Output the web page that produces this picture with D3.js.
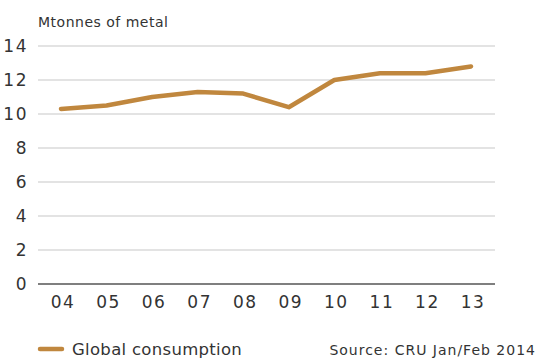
<!DOCTYPE html>
<html>
<head>
<meta charset="utf-8">
<script src="https://cdn.jsdelivr.net/npm/d3@7"></script>
<style>
  body { margin: 0; background: #fff; }
  text { font-family: "DejaVu Sans", sans-serif; fill: #333; }
</style>
</head>
<body>
<div id="chart"></div>
<script>
var years = ["04", "05", "06", "07", "08", "09", "10", "11", "12", "13"];
var consumption = [10.3, 10.5, 11.0, 11.3, 11.2, 10.4, 12.0, 12.4, 12.4, 12.8];
var yTicks = [0, 2, 4, 6, 8, 10, 12, 14];

var width = 538, height = 358;
var margin = { top: 46, right: 43, bottom: 74, left: 38 };

var svg = d3.select("#chart").append("svg")
    .attr("width", width)
    .attr("height", height);

var x = d3.scalePoint()
    .domain(years)
    .range([margin.left + 23, width - margin.right - 24]);

var y = d3.scaleLinear()
    .domain([0, 14])
    .range([height - margin.bottom, margin.top]);

// grid lines
svg.selectAll("line.grid")
    .data(yTicks)
    .enter()
    .append("line")
    .attr("class", "grid")
    .attr("x1", margin.left)
    .attr("x2", width - margin.right)
    .attr("y1", function(d) { return y(d); })
    .attr("y2", function(d) { return y(d); })
    .attr("stroke", function(d) { return d == 0 ? "#555" : "#c8c8c8"; })
    .attr("stroke-width", function(d) { return d == 0 ? 1.5 : 1.2; });

// y labels
svg.selectAll("text.ylab")
    .data(yTicks)
    .enter()
    .append("text")
    .attr("class", "ylab")
    .attr("x", 28)
    .attr("y", function(d) { return y(d) + 6; })
    .attr("text-anchor", "end")
    .attr("font-size", 17)
    .attr("letter-spacing", 1.5)
    .text(function(d) { return d; });

// x labels
svg.selectAll("text.xlab")
    .data(years)
    .enter()
    .append("text")
    .attr("class", "xlab")
    .attr("x", function(d) { return x(d) + 2; })
    .attr("y", y(0) + 24)
    .attr("text-anchor", "middle")
    .attr("font-size", 17)
    .attr("letter-spacing", 1.5)
    .text(function(d) { return d; });

// unit title
svg.append("text")
    .attr("x", margin.left)
    .attr("y", 27)
    .attr("font-size", 14)
    .attr("letter-spacing", 0.5)
    .text("Mtonnes of metal");

// the line
var line = d3.line()
    .x(function(d, i) { return x(years[i]); })
    .y(function(d) { return y(d); });

svg.append("path")
    .datum(consumption)
    .attr("fill", "none")
    .attr("stroke", "#c0873e")
    .attr("stroke-width", 4.5)
    .attr("stroke-linecap", "round")
    .attr("stroke-linejoin", "round")
    .attr("d", line);

// legend
svg.append("line")
    .attr("x1", 40)
    .attr("x2", 62)
    .attr("y1", 349)
    .attr("y2", 349)
    .attr("stroke", "#c0873e")
    .attr("stroke-width", 4.5)
    .attr("stroke-linecap", "round");

svg.append("text")
    .attr("x", 72)
    .attr("y", 355)
    .attr("font-size", 16.5)
    .attr("letter-spacing", 0.3)
    .text("Global consumption");

svg.append("text")
    .attr("x", 536)
    .attr("y", 355)
    .attr("text-anchor", "end")
    .attr("font-size", 14)
    .attr("letter-spacing", 1)
    .text("Source: CRU Jan/Feb 2014");
</script>
</body>
</html>
